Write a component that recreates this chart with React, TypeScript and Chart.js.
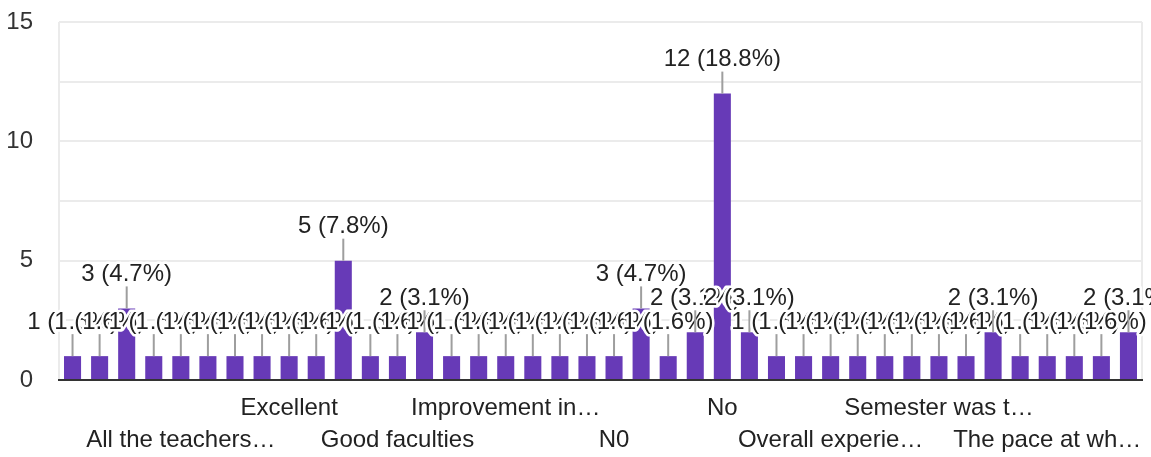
import React, { useEffect, useRef } from "react";
import { Chart, registerables } from "chart.js";

Chart.register(...registerables);

// Categories (only every 4th answer label is shown on the axis; hidden ones unreadable)
const categories: string[] = [
  "", "", "", "", "All the teachers…", "", "", "", "Excellent", "",
  "", "", "Good faculties", "", "", "", "Improvement in…", "", "", "",
  "N0", "", "", "", "No", "", "", "", "Overall experie…", "",
  "", "", "Semester was t…", "", "", "", "The pace at wh…", "", "", "",
];

// Response counts per answer
const responses: number[] = [
  1, 1, 3, 1, 1, 1, 1, 1, 1, 1,
  5, 1, 1, 2, 1, 1, 1, 1, 1, 1,
  1, 3, 1, 2, 12, 2, 1, 1, 1, 1,
  1, 1, 1, 1, 2, 1, 1, 1, 1, 2,
];

const yTickLabels: number[] = [0, 5, 10, 15];

const FONT = "'Liberation Sans', Arial, Helvetica, sans-serif";
const BAR_COLOR = "#673ab7";
const TEXT_COLOR = "#222222";
const GRID_COLOR = "#ebebeb";

const valueLabels = {
  id: "valueLabels",
  afterDatasetsDraw(chart: any) {
    const ctx = chart.ctx as CanvasRenderingContext2D;
    const meta = chart.getDatasetMeta(0);
    const data = chart.data.datasets[0].data as number[];
    const total = data.reduce((a, b) => a + b, 0);
    ctx.save();
    ctx.font = `24px ${FONT}`;
    ctx.textAlign = "center";
    ctx.textBaseline = "middle";
    meta.data.forEach((bar: any, i: number) => {
      const { x, y } = bar.getProps(["x", "y"], true);
      const v = data[i];
      ctx.strokeStyle = "#9e9e9e";
      ctx.lineWidth = 2;
      ctx.beginPath();
      ctx.moveTo(x, y);
      ctx.lineTo(x, y - 22);
      ctx.stroke();
      const text = `${v} (${((v / total) * 100).toFixed(1)}%)`;
      ctx.lineJoin = "round";
      ctx.lineWidth = 5;
      ctx.strokeStyle = "#ffffff";
      ctx.strokeText(text, x, y - 34);
      ctx.fillStyle = TEXT_COLOR;
      ctx.fillText(text, x, y - 34);
    });
    ctx.restore();
  },
};

export default function App() {
  const canvasRef = useRef<HTMLCanvasElement | null>(null);

  useEffect(() => {
    document.body.style.margin = "0";
    const canvas = canvasRef.current;
    if (!canvas) return;
    const chart = new Chart(canvas, {
      type: "bar",
      data: {
        labels: categories,
        datasets: [
          {
            data: responses,
            backgroundColor: BAR_COLOR,
            borderWidth: 0,
            categoryPercentage: 1,
            barPercentage: 0.63,
          },
        ],
      },
      options: {
        responsive: false,
        animation: false,
        devicePixelRatio: 1,
        layout: { padding: { top: 22, right: 9, left: 0, bottom: 0 } },
        plugins: {
          legend: { display: false },
          tooltip: { enabled: false },
          title: { display: false },
        },
        scales: {
          x: {
            offset: true,
            afterFit: (scale: any) => {
              scale.height = 77;
              scale.paddingLeft = 0;
              scale.paddingRight = 0;
            },
            grid: {
              offset: true,
              drawTicks: false,
              lineWidth: 2,
              color: (c: any) =>
                c.type === "scale" || c.index === 0 ? GRID_COLOR : "rgba(0,0,0,0)",
            },
            border: { display: true, color: "#333333", width: 2 },
            ticks: {
              autoSkip: false,
              maxRotation: 0,
              minRotation: 0,
              padding: 12,
              color: TEXT_COLOR,
              font: { family: FONT, size: 24, lineHeight: 32 / 24 },
              callback: (_v: any, index: number) => {
                const label = categories[index];
                if (!label) return "";
                return (index / 4) % 2 === 1 ? ["", label] : label;
              },
            },
          },
          y: {
            min: 0,
            max: 15,
            afterFit: (scale: any) => {
              scale.width = 59;
              scale.paddingTop = 0;
              scale.paddingBottom = 0;
            },
            grid: { color: GRID_COLOR, lineWidth: 2, drawTicks: false },
            border: { display: false },
            ticks: {
              stepSize: 2.5,
              padding: 26,
              color: "#333333",
              font: { family: FONT, size: 24 },
              callback: (v: any) => (yTickLabels.includes(Number(v)) ? String(v) : ""),
            },
          },
        },
      },
      plugins: [valueLabels],
    });
    return () => chart.destroy();
  }, []);

  return (
    <div style={{ width: 1151, height: 457 }}>
      <canvas ref={canvasRef} width={1151} height={457} style={{ display: "block" }} />
    </div>
  );
}
